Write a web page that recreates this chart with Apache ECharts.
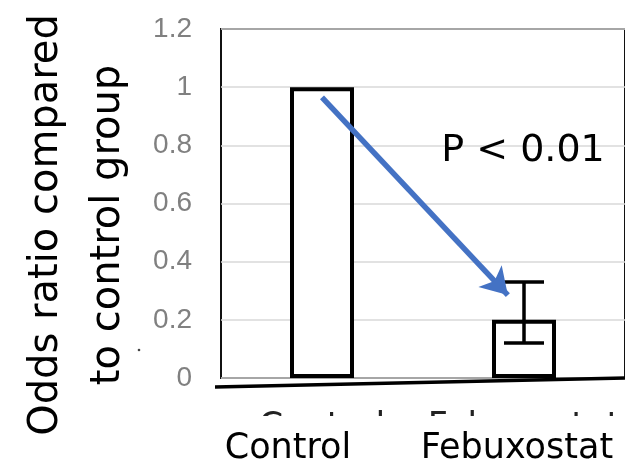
<!DOCTYPE html>
<html>
<head>
<meta charset="utf-8">
<script src="https://cdn.jsdelivr.net/npm/echarts@6/dist/echarts.min.js"></script>
<style>
  html, body { margin: 0; padding: 0; background: #fff; }
  #chart { width: 625px; height: 469px; }
</style>
</head>
<body>
<div id="chart"></div>
<script>
// data
var categories = ['Control', 'Febuxostat'];
var oddsRatio = [1, 0.2];
var errLow = [null, 0.12];
var errHigh = [null, 0.33];
var yTicks = { min: 0, max: 1.2, interval: 0.2 };
// arrow annotation, x in category units (0 = Control, 1 = Febuxostat)
var arrowFrom = [0, 0.965];
var arrowTo = [0.92, 0.285];
var pText = 'P < 0.01';

var chart = echarts.init(document.getElementById('chart'));

var errData = [];
for (var i = 0; i < categories.length; i++) {
    if (errLow[i] != null) errData.push([i, errLow[i], errHigh[i]]);
}

var option = {
    backgroundColor: '#fff',
    animation: false,
    grid: {
        left: 221, top: 29, width: 410, bottom: 91,
        show: true, borderColor: '#111', borderWidth: 2, backgroundColor: 'transparent'
    },
    xAxis: [
        {
            type: 'category',
            data: categories,
            axisLine: { show: false },
            axisTick: { show: false },
            axisLabel: { interval: 0, color: '#222', fontSize: 35, fontFamily: 'DejaVu Sans', margin: 32 }
        },
        {
            type: 'value', min: -0.5, max: 1.5, show: false
        }
    ],
    yAxis: {
        type: 'value',
        min: yTicks.min, max: yTicks.max, interval: yTicks.interval,
        axisLine: { show: false },
        axisTick: { show: false },
        axisLabel: { color: '#808080', fontSize: 28, fontFamily: 'Liberation Sans', margin: 29 },
        splitLine: { lineStyle: { color: '#d9d9d9', width: 1.5 } }
    },
    series: [
        {
            type: 'bar',
            data: oddsRatio,
            barWidth: 64,
            itemStyle: { color: '#fff', borderColor: '#000', borderWidth: 4 },
            z: 3
        },
        {
            type: 'custom',
            data: errData,
            z: 4,
            renderItem: function (params, api) {
                var lo = api.coord([api.value(0), api.value(1)]);
                var hi = api.coord([api.value(0), api.value(2)]);
                var cap = 20;
                var st = { stroke: '#000', lineWidth: 3.5 };
                return {
                    type: 'group',
                    children: [
                        { type: 'line', shape: { x1: hi[0], y1: hi[1], x2: lo[0], y2: lo[1] }, style: st },
                        { type: 'line', shape: { x1: hi[0] - cap, y1: hi[1], x2: hi[0] + cap, y2: hi[1] }, style: st },
                        { type: 'line', shape: { x1: lo[0] - cap, y1: lo[1], x2: lo[0] + cap, y2: lo[1] }, style: st }
                    ]
                };
            }
        },
        {
            type: 'line',
            xAxisIndex: 1,
            data: [],
            z: 5,
            markLine: {
                silent: true,
                symbol: ['none', 'arrow'],
                symbolSize: [24, 26],
                label: { show: false },
                lineStyle: { color: '#4472C4', width: 5.5, type: 'solid' },
                data: [[{ coord: arrowFrom }, { coord: arrowTo }]]
            }
        }
    ],
    graphic: [
        // slanted base line under the bars
        { type: 'line', z: 100, shape: { x1: 215, y1: 387, x2: 625, y2: 378 }, style: { stroke: '#000', lineWidth: 3.5 } },
        // the lower part of the original axis labels is cut off
        { type: 'rect', z: 100, shape: { x: 150, y: 416, width: 475, height: 24 }, style: { fill: '#fff' } },
        { type: 'text', z: 110, x: 288, y: 449,
          style: { text: 'Control', fontSize: 35, fontFamily: 'DejaVu Sans', fill: '#000', align: 'center', verticalAlign: 'middle' } },
        { type: 'text', z: 110, x: 517, y: 449,
          style: { text: 'Febuxostat', fontSize: 35, fontFamily: 'DejaVu Sans', fill: '#000', align: 'center', verticalAlign: 'middle' } },
        { type: 'text', z: 110, x: 78, y: 225, rotation: Math.PI / 2,
          style: { text: 'Odds ratio compared\nto control group', fontSize: 40, lineHeight: 62, fontFamily: 'DejaVu Sans',
                   fill: '#000', align: 'center', verticalAlign: 'middle' } },
        { type: 'text', z: 110, x: 523, y: 151,
          style: { text: pText, fontSize: 38, fontFamily: 'DejaVu Sans', fill: '#000', align: 'center', verticalAlign: 'middle' } },
        { type: 'circle', z: 110, shape: { cx: 139, cy: 350, r: 1.3 }, style: { fill: '#444' } }
    ]
};

chart.setOption(option);
</script>
</body>
</html>
